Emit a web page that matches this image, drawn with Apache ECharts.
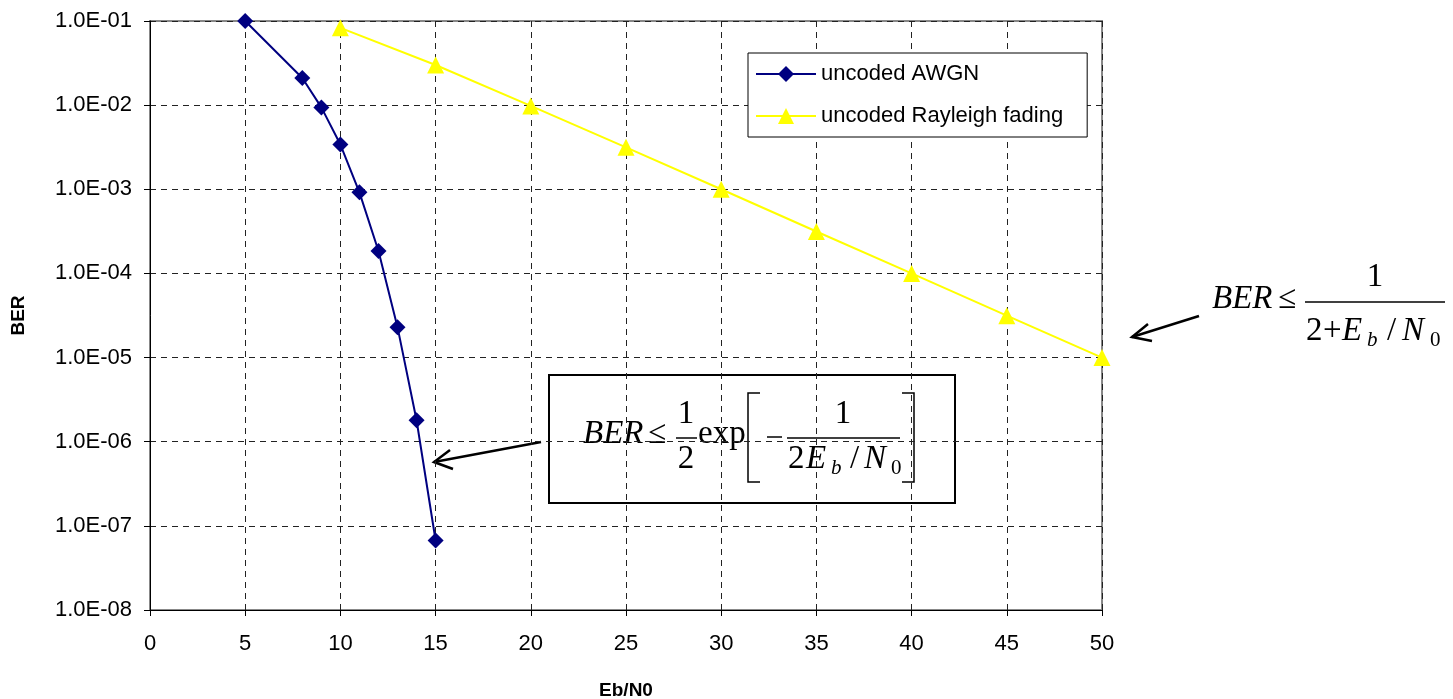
<!DOCTYPE html>
<html>
<head>
<meta charset="utf-8">
<script src="https://cdn.jsdelivr.net/npm/echarts@6/dist/echarts.min.js"></script>
<style>
  html, body { margin: 0; padding: 0; background: #fff; }
  #chart { width: 1453px; height: 699px; }
</style>
</head>
<body>
<div id="chart"></div>
<script>
// 数据
const awgnX = [5, 8, 9, 10, 11, 12, 13, 14, 15];
const awgnBer = [1.0e-1, 2.1e-2, 9.4e-3, 3.4e-3, 9.2e-4, 1.85e-4, 2.3e-5, 1.8e-6, 6.7e-8];
const rayX = [10, 15, 20, 25, 30, 35, 40, 45, 50];
const rayBer = [8.3e-2, 3.0e-2, 9.8e-3, 3.15e-3, 1.0e-3, 3.15e-4, 1.0e-4, 3.15e-5, 1.0e-5];
const yTickLabels = ['1.0E-08', '1.0E-07', '1.0E-06', '1.0E-05', '1.0E-04', '1.0E-03', '1.0E-02', '1.0E-01'];
const seriesNames = ['uncoded AWGN', 'uncoded Rayleigh fading'];

const SANS = '"Liberation Sans", Arial, sans-serif';
const SERIF = '"Liberation Serif", "Times New Roman", serif';

function pairs(xs, ys) {
  return xs.map((x, i) => [x, ys[i]]);
}

// 公式文字 (baseline 坐标)
function txt(x, baseline, s, size, italic, align) {
  return {
    type: 'text',
    silent: true,
    style: {
      x: x,
      y: baseline - size * 0.33,
      text: s,
      font: (italic ? 'italic ' : '') + size + 'px ' + SERIF,
      fill: '#000',
      textAlign: align || 'left',
      textVerticalAlign: 'middle',
    },
  };
}
function seg(points, w) {
  return {
    type: 'polyline',
    silent: true,
    shape: { points: points },
    style: { stroke: '#000', lineWidth: w || 2.5, fill: null },
  };
}

const graphics = [
  // 公式1 框
  {
    type: 'rect',
    silent: true,
    shape: { x: 549, y: 375, width: 406, height: 128 },
    style: { stroke: '#000', lineWidth: 2, fill: '#fff' },
  },
  txt(583, 445, 'BER', 33, true),
  txt(648, 445, '≤', 33, false),
  txt(686, 425, '1', 33, false, 'center'),
  seg([[676, 438], [697, 438]], 1.5),
  txt(686, 470, '2', 33, false, 'center'),
  txt(698, 445, 'exp', 33, false),
  seg([[760, 393], [748, 393], [748, 482], [760, 482]], 1.5),
  seg([[767, 437], [782, 437]], 1.5),
  txt(843, 425, '1', 33, false, 'center'),
  seg([[787, 438], [900, 438]], 1.5),
  txt(788, 470, '2', 33, false),
  txt(806, 470, 'E', 33, true),
  txt(831, 475, 'b', 21, true),
  txt(850, 470, '/', 33, false),
  txt(864, 470, 'N', 33, true),
  txt(891, 475, '0', 21, false),
  seg([[902, 393], [914, 393], [914, 482], [902, 482]], 1.5),
  // 箭头1
  seg([[541, 442], [434, 462]]),
  seg([[450, 450], [434, 462], [453, 469]]),
  // 公式2
  txt(1212, 310, 'BER', 33, true),
  txt(1278, 310, '≤', 33, false),
  txt(1375, 288, '1', 33, false, 'center'),
  seg([[1305, 302], [1445, 302]], 1.5),
  txt(1306, 342, '2', 33, false),
  txt(1323, 342, '+', 33, false),
  txt(1342, 342, 'E', 33, true),
  txt(1367, 347, 'b', 21, true),
  txt(1387, 342, '/', 33, false),
  txt(1402, 342, 'N', 33, true),
  txt(1430, 347, '0', 21, false),
  // 箭头2
  seg([[1199, 316], [1132, 337]]),
  seg([[1148, 324], [1132, 337], [1152, 341]]),
];

const chart = echarts.init(document.getElementById('chart'));
const option = {
  backgroundColor: '#fff',
  animation: false,
  grid: {
    left: 150,
    right: 351,
    top: 21,
    bottom: 89,
    containLabel: false,
    outerBoundsMode: 'none',
    show: true,
    borderColor: '#888',
    borderWidth: 2,
  },
  legend: {
    orient: 'vertical',
    left: 748,
    top: 53,
    data: seriesNames,
    backgroundColor: '#fff',
    borderColor: '#000',
    borderWidth: 1,
    borderRadius: 0,
    padding: [10, 24, 10, 7],
    itemWidth: 60,
    itemHeight: 20,
    itemGap: 20,
    textStyle: {
      fontFamily: SANS,
      fontSize: 22,
      lineHeight: 22,
      color: '#000',
    },
  },
  xAxis: {
    type: 'value',
    min: 0,
    max: 50,
    interval: 5,
    name: 'Eb/N0',
    nameLocation: 'middle',
    nameGap: 71,
    nameTextStyle: { fontFamily: SANS, fontSize: 19, fontWeight: 'bold', color: '#000' },
    axisLine: { show: true, lineStyle: { color: '#000', width: 1 } },
    axisTick: { show: true, length: 6, lineStyle: { color: '#000' } },
    axisLabel: { margin: 23, fontFamily: SANS, fontSize: 22, color: '#000' },
    splitLine: { show: true, lineStyle: { color: '#222', type: [6, 5], width: 1 } },
  },
  yAxis: {
    type: 'log',
    logBase: 10,
    min: 1e-8,
    max: 1e-1,
    splitNumber: 7,
    name: 'BER',
    nameLocation: 'middle',
    nameRotate: 90,
    nameGap: 122,
    nameTextStyle: { fontFamily: SANS, fontSize: 19, fontWeight: 'bold', color: '#000' },
    axisLine: { show: true, lineStyle: { color: '#000', width: 1 } },
    axisTick: { show: true, length: 6, lineStyle: { color: '#000' } },
    axisLabel: {
      margin: 18,
      fontFamily: SANS,
      fontSize: 22,
      color: '#000',
      formatter: function (v) {
        const e = Math.round(Math.log10(v));
        return yTickLabels[e + 8] || '';
      },
    },
    splitLine: { show: true, lineStyle: { color: '#222', type: [6, 5], width: 1 } },
  },
  series: [
    {
      name: seriesNames[0],
      type: 'line',
      data: pairs(awgnX, awgnBer),
      symbol: 'diamond',
      symbolSize: 16,
      color: '#000080',
      lineStyle: { color: '#000080', width: 2 },
      itemStyle: { color: '#000080' },
      z: 3,
    },
    {
      name: seriesNames[1],
      type: 'line',
      data: pairs(rayX, rayBer),
      symbol: 'triangle',
      symbolSize: 17,
      color: '#ffff00',
      lineStyle: { color: '#ffff00', width: 2 },
      itemStyle: { color: '#ffff00' },
      z: 2,
    },
  ],
  graphic: graphics,
};
chart.setOption(option);
</script>
</body>
</html>
